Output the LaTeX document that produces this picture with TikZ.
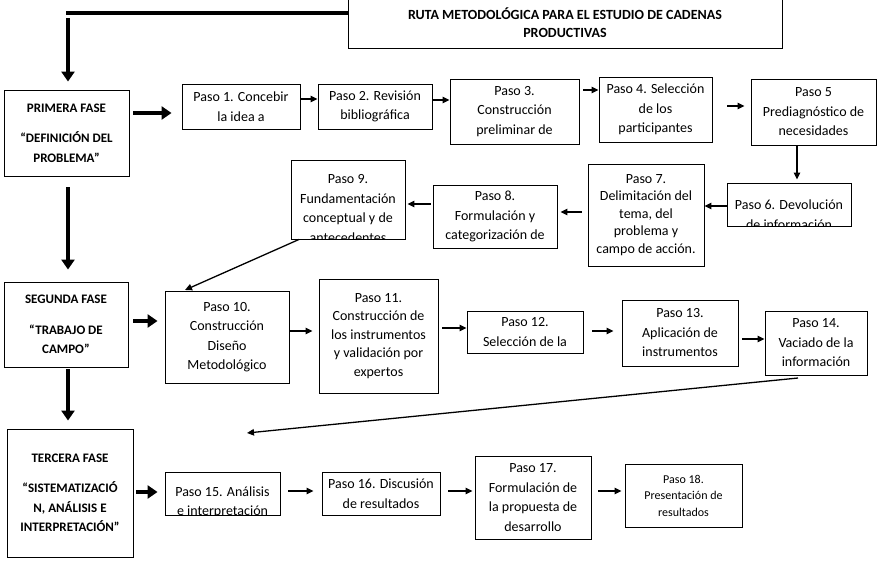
\documentclass[tikz,border=0pt]{standalone}
\usepackage{fontspec}
\setmainfont{Carlito}
\usetikzlibrary{arrows.meta}
\newcommand\mybox[7][]{\node[box,minimum width={#5-#3},minimum height={#6-#4},#1] (#2) at ({(#3+#5)/2},{(#4+#6)/2}) {#7};}
\begin{document}
\begin{tikzpicture}[x=1pt,y=-1pt,
  txt/.style={align=center, font=\fontsize{14}{19.5}\selectfont, inner sep=0pt},
  box/.style={draw, line width=0.9pt, txt},
  phase/.style={box, font=\bfseries\fontsize{13}{19.5}\selectfont},
  arr/.style={-{Triangle[length=7pt,width=6.5pt]}, line width=1.3pt},
  bigarr/.style={-{Triangle[length=10pt,width=13pt]}, line width=4.5pt}]
\useasboundingbox (0,0) rectangle (878,562);
% title and phases
\mybox[phase, font=\bfseries\fontsize{14}{18}\selectfont]{title}{348}{-3}{782}{48}{RUTA METODOLÓGICA PARA EL ESTUDIO DE CADENAS\\PRODUCTIVAS}
\mybox[phase]{f1}{4}{90}{129}{176}{PRIMERA FASE\\[11pt]“DEFINICIÓN DEL\\PROBLEMA”}
\mybox[phase]{f2}{4}{282}{128}{367}{SEGUNDA FASE\\[11pt]“TRABAJO DE\\CAMPO”}
\mybox[phase]{f3}{7}{429}{133}{557}{TERCERA FASE\\[11pt]“SISTEMATIZACIÓ\\N, ANÁLISIS E\\INTERPRETACIÓN”}
% row 1
\mybox{p1}{182}{84}{300}{129}{Paso 1. Concebir\\la idea a}
\mybox{p2}{318}{84}{432}{129}{Paso 2. Revisión\\bibliográfica}
\mybox{p3}{450}{79}{579}{144}{Paso 3.\\Construcción\\preliminar de}
\mybox{p4}{599}{77}{712}{142}{Paso 4. Selección\\de los\\participantes}
\mybox{p5}{751}{79}{876}{145}{Paso 5\\Prediagnóstico de\\necesidades}
% row 2
\mybox[path picture={\node[txt,draw=none] (p6t) at ([yshift=-10pt]path picture bounding box.center) {Paso 6. Devolución\\de información};}]{p6}{727}{183}{851}{226}{}
\mybox[font=\fontsize{14}{17.5}\selectfont]{p7}{588}{164}{704}{266}{Paso 7.\\Delimitación del\\tema, del\\problema y\\campo de acción.}
\mybox{p8}{433}{185}{557}{248}{Paso 8.\\Formulación y\\categorización de}
\mybox[path picture={\node[txt,draw=none] (p9t) at ([yshift=-9pt]path picture bounding box.center) {Paso 9.\\Fundamentación\\conceptual y de\\antecedentes};}]{p9}{291}{160}{405}{239}{}
% row 3
\mybox{p10}{165}{291}{289}{383}{Paso 10.\\Construcción\\Diseño\\Metodológico}
\mybox[font=\fontsize{14}{18.5}\selectfont]{p11}{319}{279}{438}{393}{Paso 11.\\Construcción de\\los instrumentos\\y validación por\\expertos}
\mybox{p12}{467}{311}{583}{353}{Paso 12.\\Selección de la}
\mybox{p13}{622}{300}{738}{366}{Paso 13.\\Aplicación de\\instrumentos}
\mybox{p14}{765}{311}{867}{375}{Paso 14.\\Vaciado de la\\información}
% row 4
\mybox[path picture={\node[txt,draw=none] (p15t) at ([yshift=-9pt]path picture bounding box.center) {Paso 15. Análisis\\e interpretación};}]{p15}{165}{472}{280}{515}{}
\mybox{p16}{322}{472}{440}{515}{Paso 16. Discusión\\de resultados}
\mybox{p17}{475}{456}{591}{539}{Paso 17.\\Formulación de\\la propuesta de\\desarrollo}
\mybox[font=\fontsize{12}{16.5}\selectfont]{p18}{625}{464}{742}{527}{Paso 18.\\Presentación de\\resultados}
% free ends
\coordinate (c1) at (68,13);
\coordinate (c2) at (68,18);
\coordinate (e10) at (185,290);
\coordinate (s14) at (798,378);
\coordinate (e15) at (247,433);
% big arrows
\draw[line width=4.5pt] (title.west |- c1) -- ([xshift=-2.25pt]c1);
\draw[bigarr, shorten >=8pt] (c2) -- (c2 |- f1.north);
\draw[bigarr, shorten <=11pt, shorten >=12pt] (c2 |- f1.south) -- (c2 |- f2.north);
\draw[bigarr, shorten <=2pt, shorten >=8pt] (c2 |- f2.south) -- (c2 |- f3.north);
\draw[bigarr, shorten <=4pt, shorten >=10pt] (f1.east |- 0,113) -- (p1.west |- 0,113);
\draw[bigarr, shorten <=5pt, shorten >=7pt] (f2.east |- 0,321) -- (p10.west |- 0,321);
\draw[bigarr, shorten <=3pt, shorten >=7pt] (f3.east |- 0,492) -- (p15.west |- 0,492);
% thin arrows
\draw[arr] (p1.east |- 0,99) -- (p2.west |- 0,99);
\draw[arr] (p2.east |- 0,100) -- (p3.west |- 0,100);
\draw[arr, shorten <=4pt] (p3.east |- 0,90) -- (p4.west |- 0,90);
\draw[arr, shorten <=15pt, shorten >=6pt] (p4.east |- 0,106) -- (p5.west |- 0,106);
\draw[arr, shorten >=3pt] (p5.south -| 797,0) -- (p6.north -| 797,0);
\draw[arr] (p6.west |- 0,206) -- (p7.east |- 0,206);
\draw[arr, shorten <=6pt, shorten >=3pt] (p7.west |- 0,212) -- (p8.east |- 0,212);
\draw[arr, shorten <=2pt, shorten >=2pt] (p8.west |- 0,204) -- (p9.east |- 0,204);
\draw[arr] (p9.south -| 299,0) -- (e10);
\draw[arr, shorten <=1pt, shorten >=6pt] (p10.east |- 0,331) -- (p11.west |- 0,331);
\draw[arr, shorten <=4pt] (p11.east |- 0,328) -- (p12.west |- 0,328);
\draw[arr, shorten <=9pt, shorten >=8pt] (p12.east |- 0,331) -- (p13.west |- 0,331);
\draw[arr, shorten <=4pt] (p13.east |- 0,339) -- (p14.west |- 0,339);
\draw[arr] (s14) -- (e15);
\draw[arr, shorten <=8pt, shorten >=8pt] (p15.east |- 0,491) -- (p16.west |- 0,491);
\draw[arr, shorten <=8pt, shorten >=2pt] (p16.east |- 0,491) -- (p17.west |- 0,491);
\draw[arr, shorten <=7pt, shorten >=3pt] (p17.east |- 0,491) -- (p18.west |- 0,491);
\end{tikzpicture}
\end{document}
